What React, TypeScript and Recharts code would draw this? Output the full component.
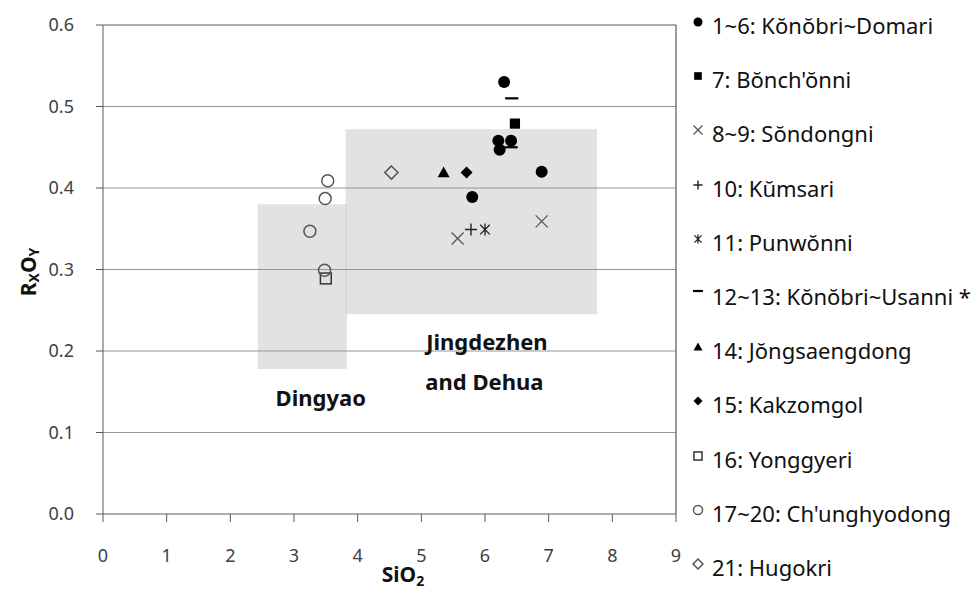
import { ScatterChart, Scatter, XAxis, YAxis, ReferenceArea, ReferenceLine, ReferenceDot } from 'recharts';

// axis ticks
const xTicks = [0, 1, 2, 3, 4, 5, 6, 7, 8, 9];
const yTicks = [0, 0.1, 0.2, 0.3, 0.4, 0.5, 0.6];
const gridLevels = [0.1, 0.2, 0.3, 0.4, 0.5];

// SiO2 vs RxOy per site
const konobriDomari = [
    { x: 6.3, y: 0.53 },
    { x: 6.21, y: 0.458 },
    { x: 6.41, y: 0.458 },
    { x: 6.23, y: 0.447 },
    { x: 6.89, y: 0.42 },
    { x: 5.8, y: 0.389 },
];
const bonchonni = [{ x: 6.47, y: 0.479 }];
const sondongni = [
    { x: 5.57, y: 0.338 },
    { x: 6.89, y: 0.359 },
];
const kumsari = [{ x: 5.78, y: 0.349 }];
const punwonni = [{ x: 6.0, y: 0.349 }];
const konobriUsanni = [
    { x: 6.42, y: 0.51 },
    { x: 6.41, y: 0.45 },
];
const jongsaengdong = [{ x: 5.35, y: 0.419 }];
const kakzomgol = [{ x: 5.71, y: 0.419 }];
const yonggyeri = [{ x: 3.5, y: 0.289 }];
const chunghyodong = [
    { x: 3.53, y: 0.409 },
    { x: 3.49, y: 0.387 },
    { x: 3.25, y: 0.347 },
    { x: 3.48, y: 0.299 },
];
const hugokri = [{ x: 4.53, y: 0.419 }];

// kiln ranges (shaded boxes)
const dingyaoBox = { x1: 2.43, x2: 3.83, y1: 0.178, y2: 0.38 };
const jingdezhenBox = { x1: 3.81, x2: 7.76, y1: 0.245, y2: 0.472 };
const regionLabels = [
    { x: 3.42, y: 0.142, text: 'Dingyao' },
    { x: 6.03, y: 0.211, text: 'Jingdezhen' },
    { x: 5.99, y: 0.162, text: 'and Dehua' },
];

const series = [
    { name: '1~6: Kŏnŏbri~Domari', data: konobriDomari, marker: 'circle' },
    { name: "7: Bŏnch'ŏnni", data: bonchonni, marker: 'square' },
    { name: '8~9: Sŏndongni', data: sondongni, marker: 'cross' },
    { name: '10: Kŭmsari', data: kumsari, marker: 'plus' },
    { name: '11: Punwŏnni', data: punwonni, marker: 'star' },
    { name: '12~13: Kŏnŏbri~Usanni *', data: konobriUsanni, marker: 'dash' },
    { name: '14: Jŏngsaengdong', data: jongsaengdong, marker: 'triangle' },
    { name: '15: Kakzomgol', data: kakzomgol, marker: 'diamond' },
    { name: '16: Yonggyeri', data: yonggyeri, marker: 'openSquare' },
    { name: "17~20: Ch'unghyodong", data: chunghyodong, marker: 'openCircle' },
    { name: '21: Hugokri', data: hugokri, marker: 'openDiamond' },
];

const FONT = '"Noto Sans", sans-serif';
const AXIS = '#595959';

function Marker({ kind, cx, cy, s }: { kind: string; cx: number; cy: number; s: number }) {
    const h = s / 2;
    switch (kind) {
        case 'circle':
            return <circle cx={cx} cy={cy} r={h} fill="#000" />;
        case 'square':
            return <rect x={cx - h * 0.85} y={cy - h * 0.85} width={s * 0.85} height={s * 0.85} fill="#000" />;
        case 'cross':
            return (
                <path d={`M${cx - h},${cy - h}L${cx + h},${cy + h}M${cx - h},${cy + h}L${cx + h},${cy - h}`} stroke="#555" strokeWidth={1.3} />
            );
        case 'plus':
            return <path d={`M${cx - h},${cy}L${cx + h},${cy}M${cx},${cy - h}L${cx},${cy + h}`} stroke="#222" strokeWidth={1.4} />;
        case 'star':
            return (
                <path
                    d={`M${cx - h * 0.8},${cy - h * 0.8}L${cx + h * 0.8},${cy + h * 0.8}M${cx - h * 0.8},${cy + h * 0.8}L${cx + h * 0.8},${cy - h * 0.8}M${cx},${cy - h}L${cx},${cy + h}`}
                    stroke="#222"
                    strokeWidth={1.3}
                />
            );
        case 'dash':
            return <path d={`M${cx - h * 1.1},${cy}L${cx + h * 1.1},${cy}`} stroke="#000" strokeWidth={2.2} />;
        case 'triangle':
            return <path d={`M${cx},${cy - h}L${cx + h},${cy + h * 0.8}L${cx - h},${cy + h * 0.8}Z`} fill="#000" />;
        case 'diamond':
            return <path d={`M${cx},${cy - h}L${cx + h},${cy}L${cx},${cy + h}L${cx - h},${cy}Z`} fill="#000" />;
        case 'openSquare':
            return <rect x={cx - h * 0.9} y={cy - h * 0.9} width={s * 0.9} height={s * 0.9} fill="none" stroke="#333" strokeWidth={1.5} />;
        case 'openCircle':
            return <circle cx={cx} cy={cy} r={h} fill="none" stroke="#555" strokeWidth={1.5} />;
        case 'openDiamond':
            return <path d={`M${cx},${cy - h * 1.1}L${cx + h * 1.1},${cy}L${cx},${cy + h * 1.1}L${cx - h * 1.1},${cy}Z`} fill="none" stroke="#555" strokeWidth={1.5} />;
        default:
            return null;
    }
}

function SideLegend() {
    return (
        <div style={{ position: 'absolute', left: 688, top: 0, width: 290, fontFamily: FONT }}>
            {series.map((s, i) => (
                <div
                    key={s.name}
                    style={{
                        position: 'absolute',
                        top: 25 + i * 54.2 - 15,
                        height: 30,
                        display: 'flex',
                        alignItems: 'center',
                        whiteSpace: 'nowrap',
                    }}
                >
                    <svg width={20} height={30} style={{ flex: 'none' }}>
                        <Marker kind={s.marker} cx={10} cy={s.marker === 'dash' ? 10 : 12} s={9} />
                    </svg>
                    <span style={{ fontSize: 22, color: '#111', marginLeft: 4 }}>{s.name}</span>
                </div>
            ))}
        </div>
    );
}

export default function App() {
    return (
        <div style={{ position: 'absolute', left: 0, top: 0, width: 978, height: 591, background: '#fff' }}>
            <ScatterChart width={978} height={591} margin={{ top: 25, right: 302, bottom: 27, left: 43 }}>
                <XAxis
                    type="number"
                    dataKey="x"
                    domain={[0, 9]}
                    ticks={xTicks}
                    height={50}
                    stroke={AXIS}
                    tickSize={8}
                    tickMargin={27}
                    tick={{ fill: '#404040', fontSize: 18, fontFamily: FONT }}
                    label={{
                        content: () => (
                            <text x={403} y={582} textAnchor="middle" fontFamily={FONT} fontSize={21} fontWeight="bold" fill="#111">
                                SiO<tspan dy={4} fontSize={14}>2</tspan>
                            </text>
                        ),
                    }}
                />
                <YAxis
                    type="number"
                    dataKey="y"
                    domain={[0, 0.6]}
                    ticks={yTicks}
                    width={60}
                    stroke={AXIS}
                    tickSize={7}
                    tickMargin={22}
                    tickFormatter={(v) => v.toFixed(1)}
                    tick={{ fill: '#404040', fontSize: 18, fontFamily: FONT }}
                    label={{
                        content: () => (
                            <text
                                x={28}
                                y={272}
                                transform="rotate(-90, 28, 272)"
                                textAnchor="middle"
                                dominantBaseline="central"
                                fontFamily={FONT}
                                fontSize={21}
                                fontWeight="bold"
                                fill="#111"
                            >
                                R<tspan dy={5} fontSize={14}>X</tspan>
                                <tspan dy={-5}>O</tspan>
                                <tspan dy={5} fontSize={14}>Y</tspan>
                            </text>
                        ),
                    }}
                />
                <ReferenceArea {...dingyaoBox} fill="#c6c6c6" fillOpacity={0.5} stroke="none" />
                <ReferenceArea {...jingdezhenBox} fill="#c6c6c6" fillOpacity={0.5} stroke="none" />
                {gridLevels.map((g) => (
                    <ReferenceLine key={g} y={g} stroke="#969696" strokeWidth={1.2} />
                ))}
                <ReferenceLine y={0.6} stroke={AXIS} strokeWidth={1.2} />
                <ReferenceLine x={9} stroke={AXIS} strokeWidth={1.2} />
                {regionLabels.map((r) => (
                    <ReferenceDot
                        key={r.text}
                        x={r.x}
                        y={r.y}
                        r={0}
                        stroke="none"
                        label={{ value: r.text, position: 'center', fontFamily: FONT, fontSize: 22, fontWeight: 'bold', fill: '#111' }}
                    />
                ))}
                {series.map((s) => (
                    <Scatter
                        key={s.name}
                        name={s.name}
                        data={s.data}
                        isAnimationActive={false}
                        shape={(p: any) => <Marker kind={s.marker} cx={p.cx} cy={p.cy} s={12} />}
                    />
                ))}
            </ScatterChart>
            <SideLegend />
        </div>
    );
}
